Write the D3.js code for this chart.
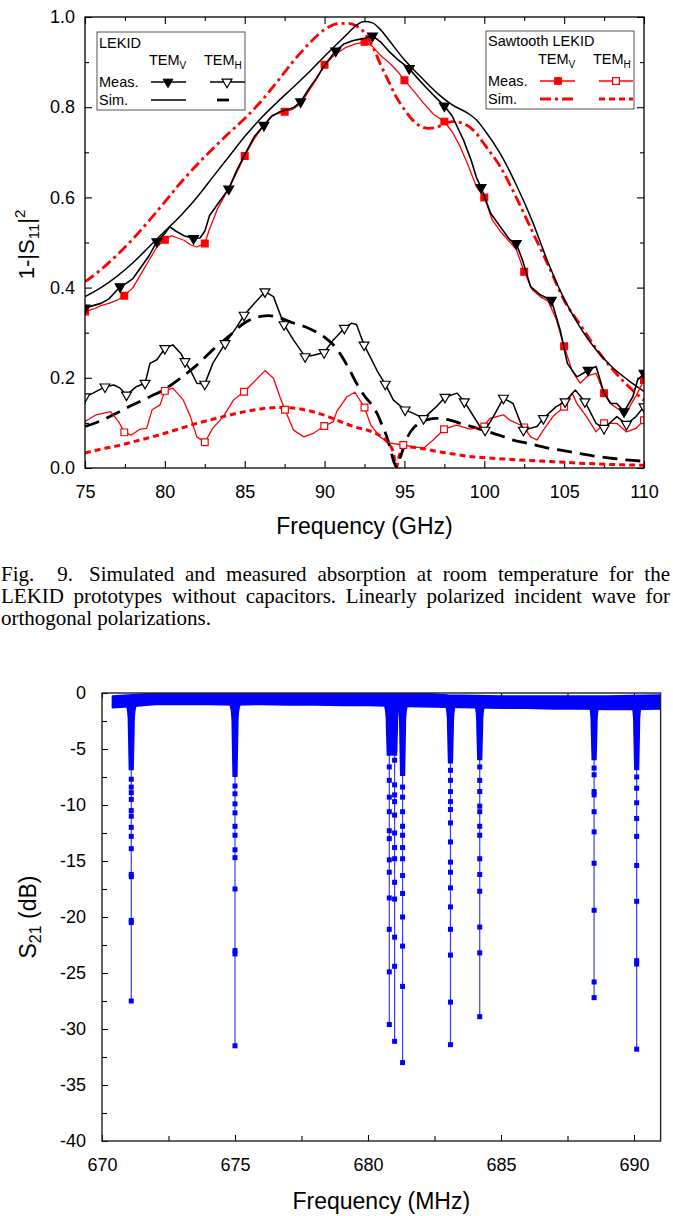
<!DOCTYPE html>
<html>
<head>
<meta charset="utf-8">
<script src="https://cdn.jsdelivr.net/npm/d3@7"></script>
<style>
body { margin: 0; background: #fff; }
text { font-family: "Liberation Sans", Arial, sans-serif; }
</style>
</head>
<body>
<div id="chart"></div>
<script>
// ---------- Fig. 9 : absorption ----------
var freqTicks = [75, 80, 85, 90, 95, 100, 105, 110];
var absTicks = [0, 0.2, 0.4, 0.6, 0.8, 1.0];

// LEKID, TEM_V measured (black, filled triangles)
var lekidVMeas = [[75,0.355],[75.5,0.36],[76,0.365],[76.5,0.375],[77.2,0.402],[77.6,0.41],[78,0.42],[78.5,0.445],
  [79,0.47],[79.5,0.502],[80,0.52],[80.3,0.535],[80.7,0.525],[81.2,0.515],[81.8,0.509],[82.2,0.51],[82.5,0.525],
  [82.8,0.56],[83.3,0.585],[84,0.619],[84.5,0.66],[85,0.695],[85.6,0.735],[86.2,0.76],[86.7,0.78],[87.2,0.79],
  [87.7,0.795],[88.1,0.8],[88.5,0.812],[89,0.84],[89.5,0.865],[90,0.893],[90.7,0.925],[91.2,0.94],[91.8,0.948],
  [92.4,0.952],[93,0.958],[93.5,0.945],[94,0.925],[94.6,0.905],[95.3,0.886],[95.8,0.865],[96.4,0.842],[97,0.82],
  [97.5,0.803],[98,0.78],[98.7,0.727],[99.2,0.68],[99.5,0.645],[99.8,0.622],[100.4,0.565],[101,0.535],[101.6,0.506],
  [102,0.498],[102.4,0.46],[102.9,0.402],[103.5,0.384],[104.2,0.372],[104.75,0.306],[105.2,0.232],[105.8,0.202],
  [106.2,0.21],[106.5,0.217],[107,0.225],[107.5,0.166],[107.9,0.143],[108.3,0.143],[108.75,0.125],[109.3,0.158],
  [109.6,0.195],[110,0.21]];
var lekidVMarks = [[75,0.355],[77.2,0.402],[79.5,0.502],[81.8,0.509],[84,0.619],[86.2,0.76],[88.5,0.812],[90.7,0.925],
  [93,0.958],[95.3,0.886],[97.5,0.803],[99.8,0.622],[102,0.498],[104.2,0.372],[106.5,0.217],[108.75,0.125],[110,0.21]];

// Sawtooth LEKID, TEM_V measured (red, filled squares)
var sawVMeas = [[75,0.347],[75.5,0.352],[76,0.36],[76.5,0.365],[77,0.372],[77.46,0.382],[78,0.4],[78.5,0.43],[79,0.46],
  [79.5,0.49],[80,0.506],[80.4,0.515],[80.8,0.51],[81.2,0.505],[81.6,0.495],[82,0.49],[82.5,0.498],[82.8,0.53],
  [83.3,0.575],[84,0.62],[84.5,0.655],[85,0.692],[85.6,0.73],[86.2,0.76],[86.7,0.782],[87.5,0.79],[88,0.795],
  [88.5,0.808],[89,0.835],[89.5,0.862],[90,0.894],[90.7,0.918],[91.3,0.932],[91.9,0.94],[92.5,0.945],[93,0.935],
  [93.5,0.915],[94.1,0.897],[94.6,0.878],[95,0.86],[95.6,0.835],[96.2,0.809],[96.8,0.785],[97.5,0.768],[98,0.745],
  [98.5,0.712],[99,0.67],[99.5,0.624],[100,0.6],[100.5,0.55],[101,0.525],[101.5,0.505],[102,0.485],[102.5,0.435],
  [103,0.395],[103.5,0.38],[104,0.37],[104.5,0.33],[105,0.27],[105.5,0.215],[106,0.188],[106.5,0.205],[107,0.21],
  [107.5,0.166],[108,0.14],[108.5,0.128],[109,0.13],[109.5,0.16],[110,0.195]];
var sawVMarks = [[75,0.347],[77.46,0.382],[80,0.506],[82.5,0.498],[85,0.692],[87.5,0.79],[90,0.894],[92.5,0.945],
  [95,0.86],[97.5,0.768],[100,0.6],[102.5,0.435],[105,0.27],[107.5,0.166],[110,0.195]];

// simulations, TEM_V
var lekidVSim = [[75,0.38],[76,0.4],[77,0.425],[78,0.455],[79,0.49],[80,0.525],[81,0.56],[82,0.6],[83,0.645],[84,0.69],
  [85,0.735],[86,0.775],[87,0.81],[88,0.843],[89,0.877],[90,0.913],[91,0.948],[91.5,0.965],[92,0.982],[92.5,0.99],
  [93,0.987],[93.5,0.972],[94,0.95],[95,0.905],[96,0.868],[97,0.833],[98,0.805],[99,0.786],[99.5,0.772],[100,0.75],
  [101,0.697],[102,0.628],[103,0.548],[104,0.455],[105,0.375],[106,0.312],[107,0.262],[108,0.224],[109,0.195],[110,0.17]];
var sawVSim = [[75,0.413],[76,0.44],[77,0.472],[78,0.508],[79,0.548],[80,0.59],[81,0.633],[82,0.672],[83,0.708],
  [84,0.742],[85,0.775],[86,0.812],[87,0.855],[88,0.9],[89,0.94],[90,0.972],[90.5,0.982],[91,0.986],[91.5,0.986],
  [92,0.98],[92.5,0.965],[93,0.935],[93.5,0.895],[94,0.858],[94.5,0.822],[95,0.795],[95.5,0.772],[96,0.758],
  [96.5,0.753],[97,0.755],[97.5,0.764],[98,0.768],[98.5,0.766],[99,0.758],[99.5,0.742],[100,0.718],[101,0.668],
  [102,0.6],[103,0.525],[104,0.45],[105,0.372],[106,0.318],[107,0.265],[108,0.22],[109,0.182],[110,0.15]];

// LEKID, TEM_H measured (black, open triangles)
var lekidHMeas = [[75,0.158],[75.5,0.166],[76.25,0.18],[76.8,0.184],[77.2,0.177],[77.6,0.162],[78.2,0.18],[78.76,0.188],
  [79.07,0.232],[79.5,0.24],[80,0.265],[80.5,0.273],[81,0.254],[81.26,0.236],[81.6,0.217],[82,0.188],[82.5,0.186],
  [83,0.232],[83.77,0.276],[84.5,0.313],[84.96,0.339],[85.5,0.361],[86.27,0.391],[86.8,0.38],[87.46,0.318],
  [88.05,0.284],[88.78,0.247],[89.3,0.25],[89.97,0.256],[90.55,0.284],[91.24,0.31],[91.7,0.321],[92,0.318],
  [92.47,0.273],[92.85,0.247],[93.3,0.215],[93.8,0.186],[94.3,0.151],[95.04,0.129],[95.56,0.121],[96.2,0.11],
  [97,0.136],[97.54,0.157],[98.3,0.166],[98.75,0.147],[99.73,0.092],[100.05,0.084],[100.57,0.114],[101.2,0.155],
  [101.8,0.143],[102.45,0.084],[103.3,0.092],[103.7,0.11],[104.5,0.136],[105.06,0.147],[105.7,0.173],[106.3,0.147],
  [107,0.099],[107.5,0.088],[108.3,0.114],[108.9,0.097],[109.5,0.114],[110,0.136]];
var lekidHMarks = [[75,0.158],[76.25,0.18],[77.6,0.162],[78.76,0.188],[80,0.265],[81.26,0.236],[82.5,0.186],
  [83.77,0.276],[84.96,0.339],[86.27,0.391],[87.46,0.318],[88.78,0.247],[89.97,0.256],[91.24,0.31],[92.47,0.273],
  [93.8,0.186],[95.04,0.129],[96.2,0.11],[97.54,0.157],[98.75,0.147],[100.05,0.084],[101.2,0.155],[102.45,0.084],
  [103.7,0.11],[105.06,0.147],[106.3,0.147],[107.5,0.088],[108.9,0.097],[110,0.136]];

// Sawtooth LEKID, TEM_H measured (red, open squares)
var sawHMeas = [[75,0.103],[75.7,0.118],[76.6,0.125],[77.1,0.103],[77.46,0.079],[77.9,0.073],[78.44,0.086],[78.86,0.088],
  [79.2,0.129],[79.7,0.14],[80,0.171],[80.5,0.177],[81.15,0.151],[81.6,0.114],[82,0.069],[82.5,0.057],[83,0.088],
  [83.66,0.114],[84.3,0.151],[84.96,0.169],[85.5,0.188],[86.27,0.216],[86.8,0.199],[87.2,0.158],[87.52,0.129],
  [88.05,0.084],[88.7,0.069],[89.3,0.077],[89.98,0.093],[90.55,0.103],[90.76,0.125],[91.4,0.158],[91.9,0.168],
  [92.5,0.134],[92.9,0.095],[93.47,0.069],[94.1,0.055],[94.93,0.051],[95.56,0.047],[96.2,0.044],[96.8,0.062],
  [97.48,0.086],[98.27,0.095],[99.1,0.086],[99.94,0.092],[100.36,0.11],[101.2,0.118],[101.6,0.106],[102.45,0.092],
  [102.9,0.069],[103.3,0.062],[103.7,0.084],[104.3,0.114],[105,0.136],[105.5,0.166],[105.8,0.143],[106.4,0.114],
  [107,0.08],[107.5,0.099],[108.3,0.099],[108.9,0.08],[109.5,0.088],[110,0.106]];
var sawHMarks = [[77.46,0.079],[80,0.171],[82.5,0.057],[84.96,0.169],[87.52,0.129],[89.98,0.093],[92.5,0.134],
  [94.93,0.051],[97.48,0.086],[100,0.092],[102.5,0.09],[105,0.136],[107.5,0.099],[110,0.106]];

// simulations, TEM_H
var lekidHSim = [[75,0.092],[76,0.105],[77,0.122],[78,0.14],[79,0.157],[80,0.175],[81,0.2],[82,0.228],[83,0.262],
  [84,0.292],[85,0.322],[86,0.336],[86.5,0.338],[87,0.335],[88,0.322],[89,0.31],[90,0.29],[90.5,0.275],[91,0.252],
  [91.5,0.222],[92,0.188],[92.5,0.16],[93,0.138],[93.3,0.12],[93.6,0.095],[93.9,0.069],[94.1,0.045],[94.3,0.018],
  [94.5,0.003],[94.7,0.02],[94.9,0.04],[95.2,0.069],[95.6,0.09],[96,0.1],[96.5,0.108],[97,0.11],[97.85,0.106],
  [98.5,0.099],[99.95,0.084],[101,0.072],[101.8,0.062],[102.7,0.055],[104,0.044],[104.7,0.04],[105.8,0.033],
  [106.8,0.027],[107.9,0.022],[108.9,0.018],[110,0.015]];
var sawHSim = [[75,0.033],[76,0.042],[77,0.049],[78,0.058],[79,0.067],[80,0.077],[81,0.088],[82,0.099],[83,0.108],
  [84,0.117],[85,0.125],[86,0.131],[87,0.134],[88,0.133],[89,0.127],[90,0.117],[91,0.103],[92,0.09],[92.85,0.082],
  [93.4,0.073],[93.7,0.066],[94,0.055],[94.3,0.035],[94.5,0.003],[94.7,0.03],[94.93,0.047],[96,0.044],[97,0.037],
  [98.06,0.031],[99,0.026],[100.36,0.022],[102.2,0.018],[104.3,0.014],[106.4,0.01],[108.7,0.007],[110,0.006]];

// ---------- S21 sweep ----------
var mhzTicks = [670, 675, 680, 685, 690];
var dbTicks = [0, -5, -10, -15, -20, -25, -30, -35, -40];
var resFreq = [671.1, 675.0, 680.8, 681.0, 681.3, 683.1, 684.2, 688.5, 690.1];
var colEnd = [-6.9, -7.5, -5.6, -5.6, -7.4, -6.3, -6.0, -6.0, -6.9];
var dipPoints = [
  [-7.7, -8.4, -8.9, -9.5, -10.5, -11.0, -12.0, -12.8, -13.9, -16.2, -16.4, -20.3, -20.5, -27.5],
  [-8.3, -9.0, -9.9, -10.7, -11.9, -12.7, -14.0, -14.7, -17.5, -23.0, -23.3, -31.5],
  [-6.6, -7.8, -9.3, -10.6, -12.3, -13.0, -14.9, -16.0, -18.3, -21.1, -24.9, -29.6],
  [-6.0, -8.2, -9.1, -9.7, -10.9, -12.5, -13.8, -14.8, -16.9, -18.4, -21.8, -24.4, -31.1],
  [-8.4, -9.3, -10.6, -11.9, -12.7, -13.8, -14.8, -16.3, -17.9, -20.0, -22.6, -26.2, -33.0],
  [-6.9, -7.8, -8.8, -9.7, -10.4, -11.6, -13.3, -15.1, -16.0, -17.4, -19.1, -21.1, -23.4, -27.6, -31.4],
  [-6.6, -7.8, -8.8, -10.1, -10.6, -11.9, -12.7, -14.8, -16.2, -17.7, -20.9, -23.2, -28.9],
  [-6.7, -7.3, -8.8, -9.1, -10.6, -12.4, -15.2, -19.4, -25.8, -27.2],
  [-7.5, -8.5, -9.8, -11.2, -12.8, -15.4, -18.6, -23.9, -24.2, -31.8]
];
var bandFreq = [670.4, 671, 672, 673, 674, 675, 676, 677, 678, 679, 680, 681, 682, 683, 684, 685, 686, 687, 688, 689, 690, 691];
var bandTop = [-0.3, -0.2, -0.05, 0, 0, -0.05, -0.1, -0.05, -0.1, -0.05, 0, 0, -0.05, -0.2, -0.25, -0.3, -0.3, -0.3, -0.3, -0.3, -0.25, -0.2];
var bandBottom = [-1.3, -1.2, -1.0, -1.0, -1.0, -1.05, -1.0, -1.05, -1.05, -1.1, -1.1, -1.15, -1.2, -1.25, -1.3, -1.35, -1.35, -1.4, -1.4, -1.45, -1.45, -1.4];

var RED = '#ff0000', BLUE = '#0000ff';
var SERIF = '"Liberation Serif", "Times New Roman", serif';

var svg = d3.select('#chart').append('svg')
    .attr('width', 673)
    .attr('height', 1216);

function styleAxis(g) {
    g.select('.domain').remove();
    g.attr('font-size', 18)
        .attr('font-family', '"Liberation Sans", Arial, sans-serif')
        .attr('color', '#000');
    g.selectAll('line').attr('stroke-width', 1.1);
}

// ================= top chart =================
var x1 = d3.scaleLinear().domain([75, 110]).range([85, 644]);
var y1 = d3.scaleLinear().domain([0, 1]).range([468, 17]);

var gTop = svg.append('g');

gTop.append('clipPath').attr('id', 'clip1')
    .append('rect')
    .attr('x', x1(75)).attr('y', y1(1))
    .attr('width', x1(110) - x1(75)).attr('height', y1(0) - y1(1));

var minorFreq = d3.range(77.5, 110, 5);
var minorAbs = d3.range(0.1, 1, 0.2);

gTop.append('g').attr('transform', 'translate(0,' + y1(0) + ')')
    .call(d3.axisBottom(x1).tickValues(freqTicks).tickSizeInner(-7).tickSizeOuter(0).tickPadding(17).tickFormat(d3.format('d')))
    .call(styleAxis);
gTop.append('g').attr('transform', 'translate(0,' + y1(0) + ')')
    .call(d3.axisBottom(x1).tickValues(minorFreq).tickSize(-4).tickFormat(''))
    .call(styleAxis);
gTop.append('g').attr('transform', 'translate(0,' + y1(1) + ')')
    .call(d3.axisTop(x1).tickValues(freqTicks).tickSize(-7).tickFormat(''))
    .call(styleAxis);
gTop.append('g').attr('transform', 'translate(0,' + y1(1) + ')')
    .call(d3.axisTop(x1).tickValues(minorFreq).tickSize(-4).tickFormat(''))
    .call(styleAxis);
gTop.append('g').attr('transform', 'translate(' + x1(75) + ',0)')
    .call(d3.axisLeft(y1).tickValues(absTicks).tickSizeInner(-7).tickSizeOuter(0).tickPadding(10).tickFormat(d3.format('.1f')))
    .call(styleAxis);
gTop.append('g').attr('transform', 'translate(' + x1(75) + ',0)')
    .call(d3.axisLeft(y1).tickValues(minorAbs).tickSize(-4).tickFormat(''))
    .call(styleAxis);
gTop.append('g').attr('transform', 'translate(' + x1(110) + ',0)')
    .call(d3.axisRight(y1).tickValues(absTicks).tickSize(-7).tickFormat(''))
    .call(styleAxis);
gTop.append('g').attr('transform', 'translate(' + x1(110) + ',0)')
    .call(d3.axisRight(y1).tickValues(minorAbs).tickSize(-4).tickFormat(''))
    .call(styleAxis);

var line1 = d3.line().x(function(d) { return x1(d[0]); }).y(function(d) { return y1(d[1]); });
var smooth1 = d3.line().curve(d3.curveMonotoneX).x(function(d) { return x1(d[0]); }).y(function(d) { return y1(d[1]); });

var plot = gTop.append('g').attr('clip-path', 'url(#clip1)');

function addLine(data, gen, color, width, dash) {
    plot.append('path')
        .datum(data)
        .attr('d', gen)
        .attr('fill', 'none')
        .attr('stroke', color)
        .attr('stroke-width', width)
        .attr('stroke-dasharray', dash || null)
        .attr('stroke-linejoin', 'round');
}

var triDown = d3.symbol().type(d3.symbolTriangle).size(42);
var square = d3.symbol().type(d3.symbolSquare).size(46);

function addMarks(data, shape, stroke, fill, rotate) {
    plot.selectAll(null)
        .data(data)
        .join('path')
        .attr('d', shape)
        .attr('transform', function(d) {
            return 'translate(' + x1(d[0]) + ',' + y1(d[1]) + ')' + (rotate ? ' rotate(180)' : '');
        })
        .attr('fill', fill)
        .attr('stroke', stroke)
        .attr('stroke-width', 1.2);
}

addLine(sawHSim, smooth1, RED, 3, '6,4');
addLine(sawVSim, smooth1, RED, 2.8, '11,4,3,4');
addLine(lekidHSim, smooth1, '#000', 2.8, '15,8');
addLine(lekidVSim, smooth1, '#000', 1.5);
addLine(sawHMeas, line1, RED, 1.3);
addMarks(sawHMarks, square, RED, '#fff');
addLine(sawVMeas, line1, RED, 1.3);
addMarks(sawVMarks, square, RED, RED);
addLine(lekidHMeas, line1, '#000', 1.5);
addMarks(lekidHMarks, triDown, '#000', '#fff', true);
addLine(lekidVMeas, line1, '#000', 1.6);
addMarks(lekidVMarks, triDown, '#000', '#000', true);

gTop.append('rect')
    .attr('x', x1(75)).attr('y', y1(1))
    .attr('width', x1(110) - x1(75)).attr('height', y1(0) - y1(1))
    .attr('fill', 'none').attr('stroke', '#000').attr('stroke-width', 1.3);

// legends
function temLabel(g, x, y, sub) {
    var t = g.append('text').attr('x', x).attr('y', y).attr('font-size', 14.5).text('TEM');
    t.append('tspan').attr('font-size', 10).attr('dy', 4).text(sub);
}

var legL = gTop.append('g');
legL.append('rect').attr('x', 97).attr('y', 32).attr('width', 148).attr('height', 78)
    .attr('fill', '#fff').attr('stroke', '#555').attr('stroke-width', 1);
legL.append('text').attr('x', 99).attr('y', 48).attr('font-size', 14.5).text('LEKID');
temLabel(legL, 149, 65, 'V');
temLabel(legL, 204, 65, 'H');
legL.append('text').attr('x', 99).attr('y', 87).attr('font-size', 14.5).text('Meas.');
legL.append('text').attr('x', 99).attr('y', 105).attr('font-size', 14.5).text('Sim.');
legL.append('line').attr('x1', 151).attr('x2', 186).attr('y1', 82).attr('y2', 82).attr('stroke', '#000').attr('stroke-width', 1.6);
legL.append('path').attr('d', triDown).attr('transform', 'translate(168,82) rotate(180)').attr('fill', '#000').attr('stroke', '#000');
legL.append('line').attr('x1', 210).attr('x2', 245).attr('y1', 82).attr('y2', 82).attr('stroke', '#000').attr('stroke-width', 1.5);
legL.append('path').attr('d', triDown).attr('transform', 'translate(227,82) rotate(180)').attr('fill', '#fff').attr('stroke', '#000').attr('stroke-width', 1.2);
legL.append('line').attr('x1', 151).attr('x2', 186).attr('y1', 100).attr('y2', 100).attr('stroke', '#000').attr('stroke-width', 1.5);
legL.append('line').attr('x1', 217).attr('x2', 229).attr('y1', 100).attr('y2', 100).attr('stroke', '#000').attr('stroke-width', 2.8);

var legR = gTop.append('g');
legR.append('rect').attr('x', 486).attr('y', 31).attr('width', 148).attr('height', 78)
    .attr('fill', '#fff').attr('stroke', '#555').attr('stroke-width', 1);
legR.append('text').attr('x', 488).attr('y', 46).attr('font-size', 14.5).text('Sawtooth LEKID');
temLabel(legR, 538, 64, 'V');
temLabel(legR, 593, 64, 'H');
legR.append('text').attr('x', 488).attr('y', 86).attr('font-size', 14.5).text('Meas.');
legR.append('text').attr('x', 488).attr('y', 104).attr('font-size', 14.5).text('Sim.');
legR.append('line').attr('x1', 540).attr('x2', 575).attr('y1', 81).attr('y2', 81).attr('stroke', RED).attr('stroke-width', 1.5);
legR.append('path').attr('d', square).attr('transform', 'translate(558,81)').attr('fill', RED).attr('stroke', RED);
legR.append('line').attr('x1', 599).attr('x2', 633).attr('y1', 81).attr('y2', 81).attr('stroke', RED).attr('stroke-width', 1.5);
legR.append('path').attr('d', square).attr('transform', 'translate(616,81)').attr('fill', '#fff').attr('stroke', RED).attr('stroke-width', 1.2);
legR.append('line').attr('x1', 540).attr('x2', 575).attr('y1', 99).attr('y2', 99).attr('stroke', RED).attr('stroke-width', 2.8).attr('stroke-dasharray', '11,4,3,4');
legR.append('line').attr('x1', 599).attr('x2', 633).attr('y1', 99).attr('y2', 99).attr('stroke', RED).attr('stroke-width', 3).attr('stroke-dasharray', '6,4');

// axis titles
gTop.append('text')
    .attr('x', (x1(75) + x1(110)) / 2).attr('y', 534)
    .attr('text-anchor', 'middle').attr('font-size', 23)
    .text('Frequency (GHz)');
var yt1 = gTop.append('text')
    .attr('transform', 'translate(34,' + (y1(0.5) + 2) + ') rotate(-90)')
    .attr('text-anchor', 'middle').attr('font-size', 22)
    .text('1-|S');
yt1.append('tspan').attr('font-size', 15).attr('dy', 5).text('11');
yt1.append('tspan').attr('dy', -5).text('|');
yt1.append('tspan').attr('font-size', 15).attr('dy', -9).text('2');

// ================= caption =================
var cap = svg.append('g')
    .attr('font-size', 21);

function justify(words, xa, xb, y) {
    var texts = words.map(function(w) {
        return cap.append('text').attr('y', y).style('font-family', SERIF).text(w);
    });
    var widths = texts.map(function(t) { return t.node().getComputedTextLength(); });
    var gap = words.length > 1 ? (xb - xa - d3.sum(widths)) / (words.length - 1) : 0;
    var x = xa;
    texts.forEach(function(t, i) {
        t.attr('x', x);
        x += widths[i] + gap;
    });
}
justify(['Fig.', '9.'], 1, 73, 581);
justify('Simulated and measured absorption at room temperature for the'.split(' '), 89, 670, 581);
justify('LEKID prototypes without capacitors. Linearly polarized incident wave for'.split(' '), 1, 670, 603);
cap.append('text').attr('x', 1).attr('y', 625)
    .style('font-family', SERIF)
    .text('orthogonal polarizations.');

// ================= bottom chart =================
var x2 = d3.scaleLinear().domain([670, 691]).range([102, 660.6]);
var y2 = d3.scaleLinear().domain([-40, 0]).range([1141, 693]);

var gBot = svg.append('g');
gBot.append('clipPath').attr('id', 'clip2')
    .append('rect')
    .attr('x', x2(670)).attr('y', y2(0))
    .attr('width', x2(691) - x2(670)).attr('height', y2(-40) - y2(0));

var minorMhz = d3.range(672.5, 691, 5);
var minorDb = d3.range(-2.5, -40, -5);

gBot.append('g').attr('transform', 'translate(0,' + y2(-40) + ')')
    .call(d3.axisBottom(x2).tickValues(mhzTicks).tickSizeInner(-6).tickSizeOuter(0).tickPadding(17).tickFormat(d3.format('d')))
    .call(styleAxis);
gBot.append('g').attr('transform', 'translate(0,' + y2(-40) + ')')
    .call(d3.axisBottom(x2).tickValues(minorMhz).tickSize(-5).tickFormat(''))
    .call(styleAxis);
gBot.append('g').attr('transform', 'translate(0,' + y2(0) + ')')
    .call(d3.axisTop(x2).tickValues(mhzTicks.concat(minorMhz)).tickSize(-5).tickFormat(''))
    .call(styleAxis);
gBot.append('g').attr('transform', 'translate(' + x2(670) + ',0)')
    .call(d3.axisLeft(y2).tickValues(dbTicks).tickSizeInner(-6).tickSizeOuter(0).tickPadding(16)
        .tickFormat(function(d) { return String(d); }))
    .call(styleAxis);
gBot.append('g').attr('transform', 'translate(' + x2(670) + ',0)')
    .call(d3.axisLeft(y2).tickValues(minorDb).tickSize(-5).tickFormat(''))
    .call(styleAxis);

var plot2 = gBot.append('g').attr('clip-path', 'url(#clip2)');

// dip traces
resFreq.forEach(function(f, i) {
    var pts = [-1].concat(dipPoints[i]);
    plot2.append('path')
        .datum(pts)
        .attr('d', d3.line().x(x2(f)).y(function(d) { return y2(d); }))
        .attr('fill', 'none')
        .attr('stroke', '#3a3aff')
        .attr('stroke-width', 1.2);
});

// dense part of each resonance
resFreq.forEach(function(f, i) {
    var cx = x2(f);
    var yb = y2(-1.2), ym = y2(-3), ye = y2(colEnd[i]);
    var p = d3.path();
    p.moveTo(cx - 7, yb - 4);
    p.quadraticCurveTo(cx - 3.5, yb, cx - 3.5, ym);
    p.lineTo(cx - 2.6, ye);
    p.lineTo(cx + 2.6, ye);
    p.lineTo(cx + 3.5, ym);
    p.quadraticCurveTo(cx + 3.5, yb, cx + 7, yb - 4);
    p.closePath();
    plot2.append('path').attr('d', p.toString()).attr('fill', BLUE);
});

// baseline band
var band = bandFreq.map(function(f, i) { return [f, bandTop[i], bandBottom[i]]; });
plot2.append('path')
    .datum(band)
    .attr('d', d3.area()
        .x(function(d) { return x2(d[0]); })
        .y0(function(d) { return y2(d[2]); })
        .y1(function(d) { return y2(d[1]); }))
    .attr('fill', BLUE)
    .attr('stroke', BLUE)
    .attr('stroke-width', 2)
    .attr('stroke-linejoin', 'round');

// dip markers
resFreq.forEach(function(f, i) {
    plot2.selectAll(null)
        .data(dipPoints[i])
        .join('rect')
        .attr('x', x2(f) - 2.5)
        .attr('y', function(d) { return y2(d) - 2.5; })
        .attr('width', 5)
        .attr('height', 5)
        .attr('fill', BLUE);
});

gBot.append('rect')
    .attr('x', x2(670)).attr('y', y2(0))
    .attr('width', x2(691) - x2(670)).attr('height', y2(-40) - y2(0))
    .attr('fill', 'none').attr('stroke', '#222').attr('stroke-width', 1.4);

gBot.append('text')
    .attr('x', (x2(670) + x2(691)) / 2).attr('y', 1209)
    .attr('text-anchor', 'middle').attr('font-size', 23)
    .text('Frequency (MHz)');
var yt2 = gBot.append('text')
    .attr('transform', 'translate(36,' + y2(-20) + ') rotate(-90)')
    .attr('text-anchor', 'middle').attr('font-size', 23)
    .text('S');
yt2.append('tspan').attr('font-size', 16).attr('dy', 5).text('21');
yt2.append('tspan').attr('dy', -5).text(' (dB)');
</script>
</body>
</html>
